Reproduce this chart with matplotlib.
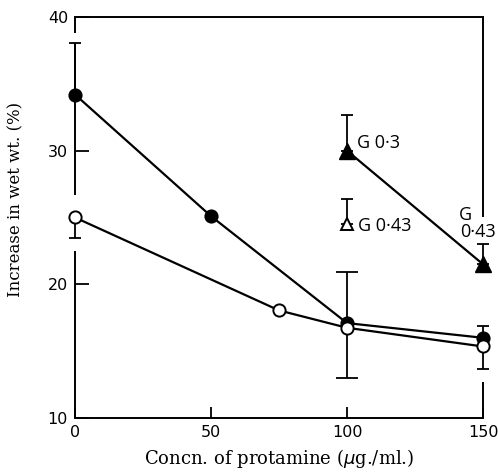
import matplotlib
matplotlib.use("Agg")
import matplotlib.pyplot as plt

# ---- data ----
conc_filled = [0, 50, 100, 150]
val_filled = [34.2, 25.1, 17.1, 16.0]

conc_open = [0, 75, 100, 150]
val_open = [25.0, 18.05, 16.75, 15.35]

conc_tri_filled = [100, 150]
val_tri_filled = [30.0, 21.5]

conc_tri_open = [100]
val_tri_open = [24.5]

# error bars: (x, y, lower, upper, capsize)
errors = [
    (0, 34.2, 0.0, 3.85, 4.3),
    (0, 25.0, 1.5, 0.0, 4.3),
    (100, 16.75, 3.75, 4.15, 7.6),
    (150, 16.0, 0.0, 0.9, 4.3),
    (150, 15.35, 1.65, 0.0, 4.3),
    (100, 30.0, 0.0, 2.65, 4.0),
    (100, 24.5, 0.0, 1.9, 4.0),
    (150, 21.5, 0.0, 1.5, 4.3),
]

annotations = [
    (103.7, 30.55, "G 0·3"),
    (104.0, 24.4, "G 0·43"),
    (141.2, 25.2, "G"),
    (141.5, 23.95, "0·43"),
]

xticks = [0, 50, 100, 150]
yticks = [10, 20, 30, 40]
left_spine_segments = [(10, 22.5), (26.7, 38.05), (38.8, 40)]
right_spine_segments = [(10, 12.7), (25.0, 40)]

xlabel = "Concn. of protamine ($\\mu$g./ml.)"
ylabel = "Increase in wet wt. (%)"

# ---- plot ----
fig = plt.figure(figsize=(4.98, 4.72), dpi=100)
ax = fig.add_axes([75/498, 1-418/472, (483-75)/498, (418-17)/472])
ax.set_xlim(0, 150)
ax.set_ylim(10, 40)

lw = 1.6
for x, y, lo, hi, cs in errors:
    ax.errorbar([x], [y], yerr=[[lo], [hi]], fmt="none", ecolor="black",
                elinewidth=1.3, capsize=cs, capthick=1.3, clip_on=False, zorder=2)

ax.plot(conc_filled, val_filled, "-", color="black", lw=lw, zorder=3, clip_on=False)
ax.plot(conc_open, val_open, "-", color="black", lw=lw, zorder=3, clip_on=False)
ax.plot(conc_tri_filled, val_tri_filled, "-", color="black", lw=lw, zorder=3, clip_on=False)

ax.plot(conc_filled, val_filled, "o", ms=9, mfc="black", mec="black", mew=1.2,
        zorder=5, clip_on=False)
ax.plot(conc_open, val_open, "o", ms=8.8, mfc="white", mec="black", mew=1.4,
        zorder=6, clip_on=False)
ax.plot(conc_tri_filled, val_tri_filled, "^", ms=11, mfc="black", mec="black",
        zorder=5, clip_on=False)
ax.plot(conc_tri_open, val_tri_open, "^", ms=8, mfc="white", mec="black", mew=1.4,
        zorder=5, clip_on=False)

for x, y, t in annotations:
    ax.text(x, y, t, ha="left", va="center", fontsize=13, family="Open Sans",
            zorder=7)

# spines
for s in ["left", "right"]:
    ax.spines[s].set_visible(False)
for s in ["top", "bottom"]:
    ax.spines[s].set_linewidth(1.4)
for y0, y1 in left_spine_segments:
    ax.vlines(0, y0, y1, color="black", lw=1.4, clip_on=False, zorder=1)
for y0, y1 in right_spine_segments:
    ax.vlines(150, y0, y1, color="black", lw=1.4, clip_on=False, zorder=1)

ax.set_xticks(xticks)
ax.set_yticks(yticks)
ax.tick_params(axis="x", direction="in", length=8, width=1.3, pad=5,
               labelsize=11.5)
ax.tick_params(axis="y", direction="in", length=10, width=1.3, pad=5,
               labelsize=11.5)

ax.set_xlabel(xlabel, family="DejaVu Serif", fontsize=13, labelpad=5)
ax.set_ylabel(ylabel, family="DejaVu Serif", fontsize=12)
ax.yaxis.set_label_coords(-0.125, 0.545)

fig.savefig("out.png", dpi=100)
